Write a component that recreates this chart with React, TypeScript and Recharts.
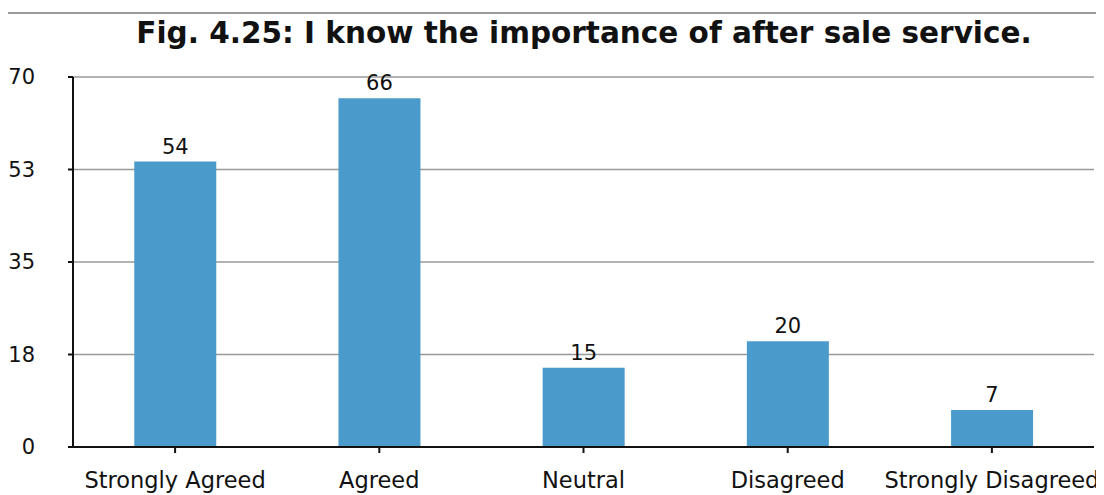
import { BarChart, Bar, XAxis, YAxis, CartesianGrid, LabelList } from 'recharts';

const categories = ['Strongly Agreed', 'Agreed', 'Neutral', 'Disagreed', 'Strongly Disagreed'];
const responses = [54, 66, 15, 20, 7];
const yTicks = [0, 17.5, 35, 52.5, 70];

const data = categories.map((name, i) => ({ name, value: responses[i] }));

const font = 'Verdana, "DejaVu Sans", sans-serif';

export default function App() {
  return (
    <div style={{ position: 'relative', width: 1104, height: 495, margin: '-8px -8px 0 -8px', background: '#fff' }}>
      <div
        style={{
          position: 'absolute',
          left: 6,
          top: 12,
          width: 1094,
          height: 490,
          borderTop: '2px solid #9a9a9a',
          borderRight: '2px solid #9a9a9a',
        }}
      />
      <div
        style={{
          position: 'absolute',
          top: 14,
          left: 0,
          width: 1168,
          textAlign: 'center',
          fontFamily: font,
          fontWeight: 'bold',
          fontSize: 29.5,
          lineHeight: '38px',
          color: '#111',
        }}
      >
        Fig. 4.25: I know the importance of after sale service.
      </div>
      <BarChart
        width={1104}
        height={495}
        data={data}
        margin={{ top: 77, right: 10, bottom: 0, left: 0 }}
        barCategoryGap="30%"
        style={{ position: 'absolute', top: 0, left: 0, overflow: 'visible' }}
      >
        <CartesianGrid vertical={false} stroke="#999" strokeWidth={1.5} />
        <XAxis
          dataKey="name"
          height={48}
          stroke="#111"
          strokeWidth={2}
          tickSize={6}
          tickMargin={19}
          interval={0}
          tick={{ fill: '#111', fontSize: 22.5, fontFamily: font }}
        />
        <YAxis
          width={73}
          domain={[0, 70]}
          ticks={yTicks}
          tickFormatter={(v: number) => String(Math.round(v))}
          stroke="#111"
          strokeWidth={2}
          tickSize={5}
          tick={{ fill: '#111', fontSize: 21, fontFamily: font, dx: -31 }}
        />
        <Bar dataKey="value" fill="#4a9bcb" isAnimationActive={false}>
          <LabelList dataKey="value" position="top" offset={8} fill="#111" fontSize={21} fontFamily={font} />
        </Bar>
      </BarChart>
    </div>
  );
}
